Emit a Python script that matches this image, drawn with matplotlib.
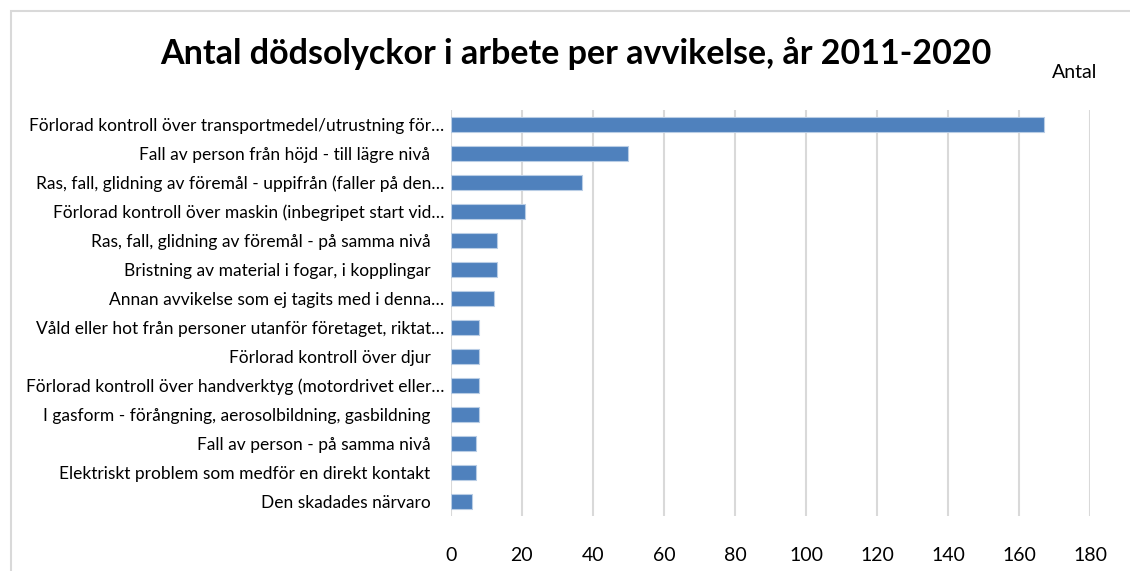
import matplotlib.pyplot as plt
from matplotlib.patches import Rectangle

categories = [
    "Förlorad kontroll över transportmedel/utrustning för…",
    "Fall av person från höjd - till lägre nivå   ",
    "Ras, fall, glidning av föremål - uppifrån (faller på den…",
    "Förlorad kontroll över maskin (inbegripet start vid…",
    "Ras, fall, glidning av föremål - på samma nivå   ",
    "Bristning av material i fogar, i kopplingar   ",
    "Annan avvikelse som ej tagits med i denna…",
    "Våld eller hot från personer utanför företaget, riktat…",
    "Förlorad kontroll över djur   ",
    "Förlorad kontroll över handverktyg (motordrivet eller…",
    "I gasform - förångning, aerosolbildning, gasbildning   ",
    "Fall av person - på samma nivå   ",
    "Elektriskt problem som medför en direkt kontakt   ",
    "Den skadades närvaro   ",
]
values = [167, 50, 37, 21, 13, 13, 12, 8, 8, 8, 8, 7, 7, 6]
xticks = [0, 20, 40, 60, 80, 100, 120, 140, 160, 180]

plt.rcParams['font.family'] = ['Lato', 'DejaVu Sans']

fig = plt.figure(figsize=(11.3, 5.71), dpi=100)
ax = fig.add_axes([0.399, 0.0963, 0.5659, 0.7111])

pos = list(range(len(values)))[::-1]
ax.barh(pos, values, height=0.55, color='#4f81bd', edgecolor='#b9cde5',
        linewidth=0.8, zorder=3)

ax.set_xlim(0, 180)
ax.set_ylim(-0.5, len(values) - 0.5)
ax.set_xticks(xticks)
ax.set_xticklabels([str(t) for t in xticks], fontsize=14)
ax.set_yticks(pos)
ax.set_yticklabels(categories, fontsize=12.5)
ax.tick_params(axis='both', length=0, colors='#000000')
ax.tick_params(axis='x', pad=22)
ax.tick_params(axis='y', pad=5)
ax.grid(axis='x', color='#d9d9d9', linewidth=1.5, zorder=0)
for s in ax.spines.values():
    s.set_visible(False)

fig.text(0.51, 1 - 54 / 571, "Antal dödsolyckor i arbete per avvikelse, år 2011-2020",
         ha='center', va='center', fontsize=24.5, fontweight='bold')
fig.text(1075 / 1130, 1 - 72 / 571, "Antal", ha='center', va='center', fontsize=14)

fig.patches.append(Rectangle((11 / 1130, -0.1), 1.2, 1 - 11 / 571 + 0.1,
                             transform=fig.transFigure, fill=False,
                             edgecolor='#d9d9d9', linewidth=1.5))

fig.savefig("out.png", dpi=100)
